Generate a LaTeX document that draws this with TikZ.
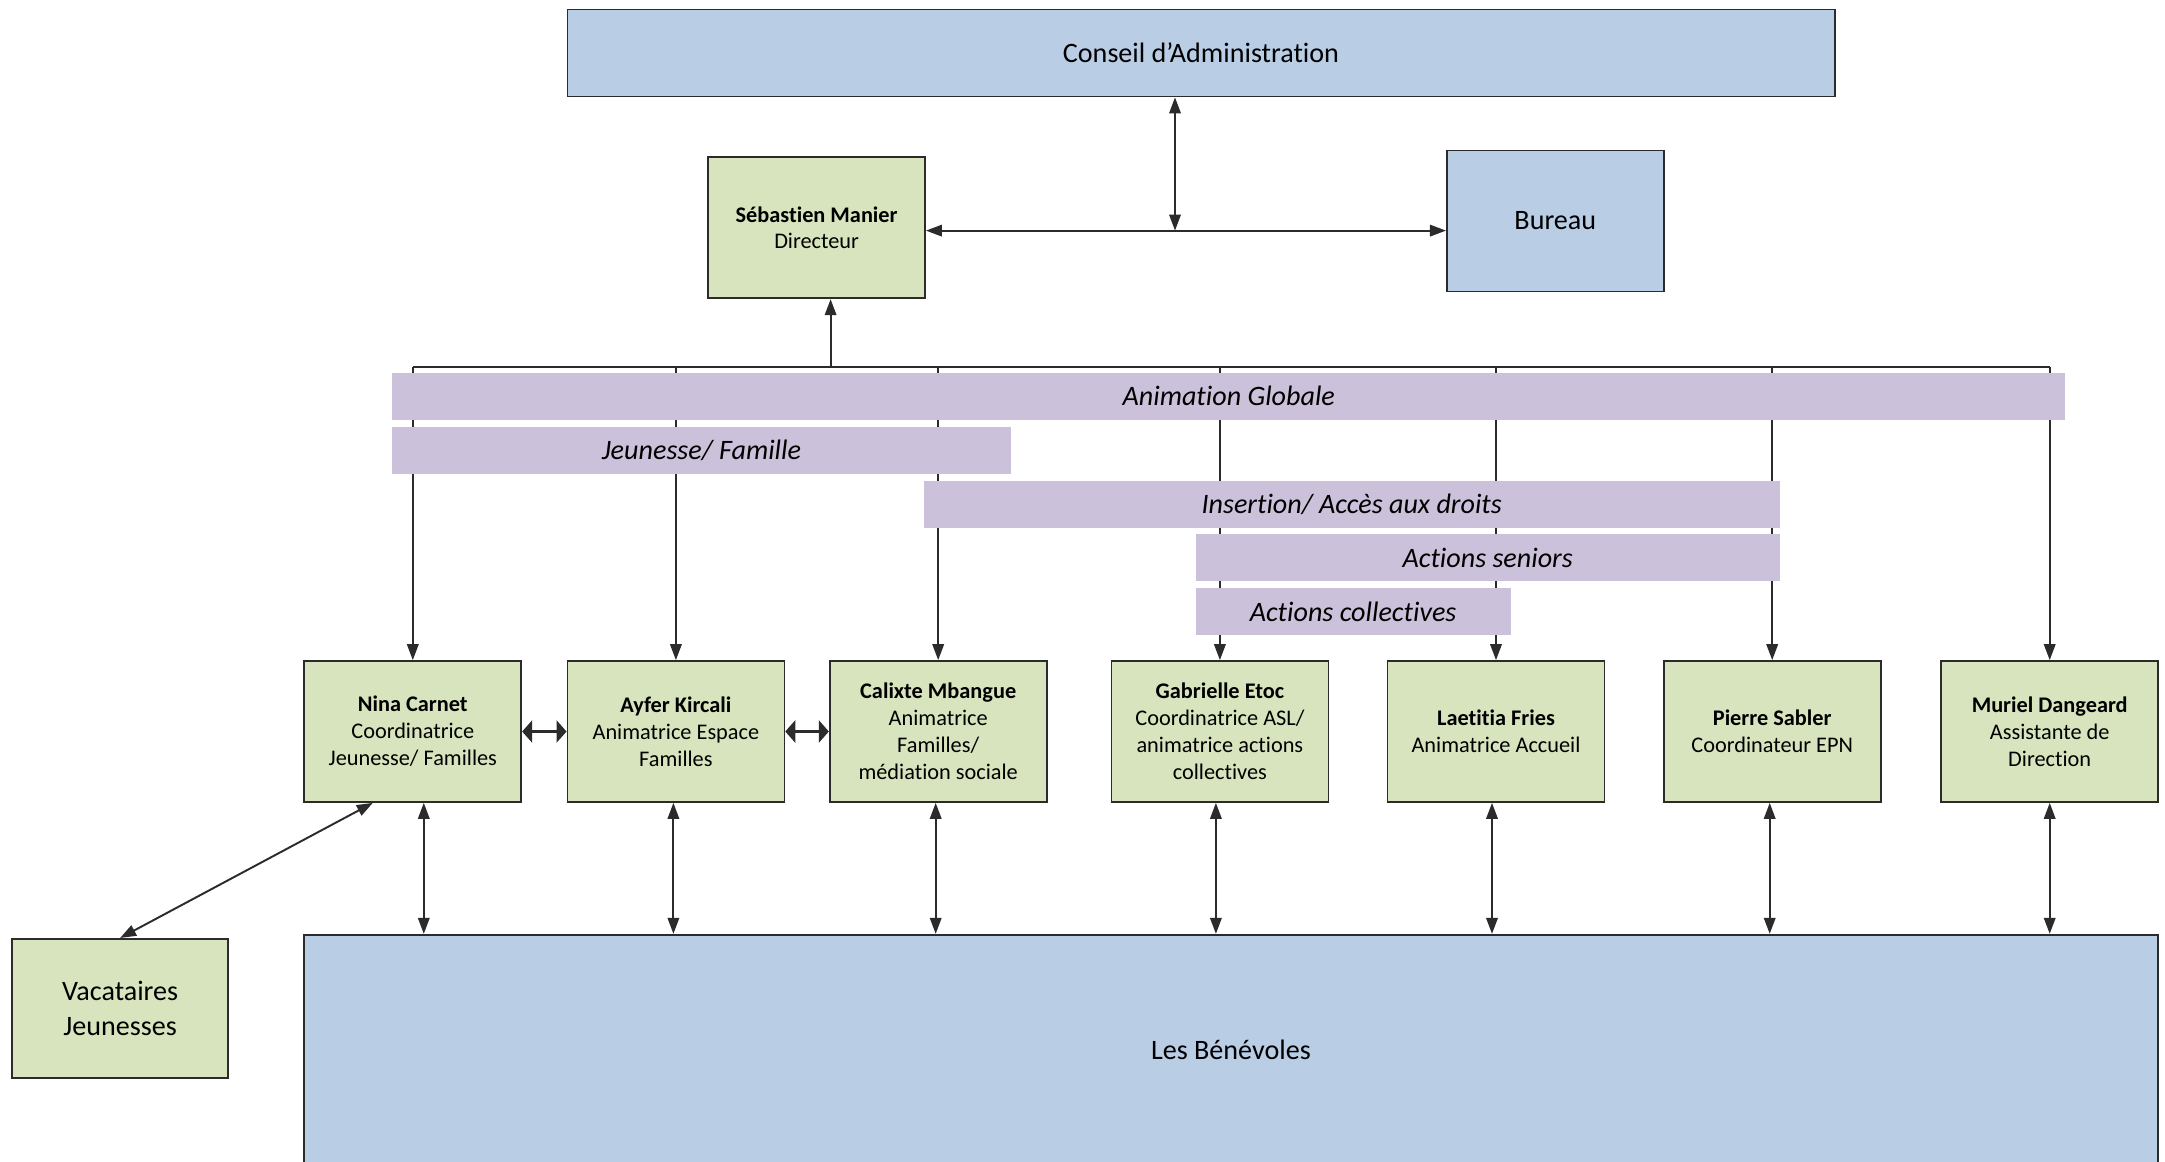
\documentclass[tikz,border=0pt]{standalone}
\usepackage{fontspec}
\setmainfont{Carlito}[Ligatures=NoCommon]
\usetikzlibrary{arrows.meta}

\definecolor{boxblue}{HTML}{B9CDE5}
\definecolor{boxgreen}{HTML}{D7E4BD}
\definecolor{bandpurple}{HTML}{CCC1DA}
\definecolor{edge}{HTML}{2B2B2B}

\begin{document}
\begin{tikzpicture}[x=0.02cm, y=-0.02cm, >={Triangle[length=0.32cm, width=0.23cm]},
    bluebox/.style={draw=edge, line width=1pt, fill=boxblue, align=center, font=\fontsize{16}{19.6}\selectfont},
    greenbox/.style={draw=edge, line width=1pt, fill=boxgreen, align=center, minimum width=4.34cm, minimum height=2.82cm, font=\fontsize{12.7}{15.3}\selectfont},
    band/.style={fill=bandpurple, minimum height=0.94cm, inner sep=0pt, font=\fontsize{16}{19.6}\selectfont\itshape},
    link/.style={line width=1.1pt, draw=edge},
    bold link/.style={line width=2.2pt, draw=edge, {Triangle[length=0.2cm, width=0.44cm]}-{Triangle[length=0.2cm, width=0.44cm]}}]

            \useasboundingbox (0,0) rectangle (2165,1161);

            % Nodes
            \node[bluebox, minimum width=25.35cm, minimum height=1.74cm] (ca) at (1201,53) {Conseil d’Administration};
            \node[greenbox] (dir) at (816.6,227.8) {\textbf{Sébastien Manier}\\Directeur};
            \node[bluebox, minimum width=4.34cm, minimum height=2.82cm] (bureau) at (1555.3,220.9) {Bureau};
            \coordinate (hub) at (1175,230.6);
            \coordinate (bus) at (0,367);

            \node[greenbox] (nina) at (412.8,731.5) {\textbf{Nina Carnet}\\Coordinatrice\\Jeunesse/ Familles};
            \node[greenbox] (ayfer) at (675.9,731.5) {\textbf{Ayfer Kircali}\\Animatrice Espace\\Familles};
            \node[greenbox] (calixte) at (938.2,731.5) {\textbf{Calixte Mbangue}\\Animatrice\\Familles/\\médiation sociale};
            \node[greenbox] (gabrielle) at (1219.9,731.5) {\textbf{Gabrielle Etoc}\\Coordinatrice ASL/\\animatrice actions\\collectives};
            \node[greenbox] (laetitia) at (1496,731.5) {\textbf{Laetitia Fries}\\Animatrice Accueil};
            \node[greenbox] (pierre) at (1772.2,731.5) {\textbf{Pierre Sabler}\\Coordinateur EPN};
            \node[greenbox] (muriel) at (2049.7,731.5) {\textbf{Muriel Dangeard}\\Assistante de\\Direction};

            \node[greenbox, minimum width=4.31cm, minimum height=2.79cm, font=\fontsize{16}{19.6}\selectfont] (vac) at (120.1,1008.6) {Vacataires\\Jeunesses};
            \node[bluebox, minimum width=37.08cm, minimum height=4.6cm] (ben) at (1230.9,1049.7) {Les Bénévoles};

            % Edges
            \draw[link, <->] (ca.south -| hub) -- (hub);
            \draw[link, <->] (dir.east |- hub) -- (bureau.west |- hub);
            \draw[link, line width=1.4pt] (nina.north |- bus) -- (muriel.north |- bus);
            \draw[link, ->] ([xshift=0.28cm]dir.south |- bus) -- ([xshift=0.28cm]dir.south);
            \foreach \n/\s in {nina/0.22,ayfer/-0.05,calixte/-0.05,gabrielle/-0.08,laetitia/-0.08,pierre/-0.05,muriel/0} {
                \draw[link, ->] (\n.north |- bus) -- (\n.north);
                \draw[link, <->] ([xshift=\s cm]\n.south) -- ([xshift=\s cm]\n.south |- ben.north);
            }
            \draw[bold link] (nina) -- (ayfer);
            \draw[bold link] (ayfer) -- (calixte);
            \draw[link, <->] (vac.north) -- ([xshift=-0.8cm]nina.south);

            % Bands
            \node[band, minimum width=33.47cm] (globale) at (1228.8,396.3) {Animation Globale};
            \node[band, minimum width=12.37cm] (jeunesse) at (701.4,450.1) {Jeunesse/ Famille};
            \node[band, minimum width=17.12cm] (insertion) at (1351.7,504) {Insertion/ Accès aux droits};
            \node[band, minimum width=11.68cm] (seniors) at (1487.7,557.8) {Actions seniors};
            \node[band, minimum width=6.3cm] (collectives) at (1353.1,611.7) {Actions collectives};
        \end{tikzpicture}
\end{document}
